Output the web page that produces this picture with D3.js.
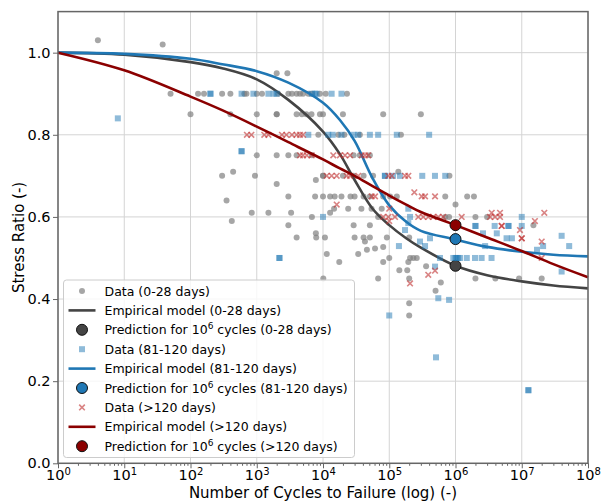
<!DOCTYPE html>
<html>
<head>
<meta charset="utf-8">
<script src="https://cdn.jsdelivr.net/npm/d3@7"></script>
<style>
  body { margin: 0; background: #fff; }
  svg { font-family: "DejaVu Sans", sans-serif; }
</style>
</head>
<body>
<svg width="603" height="503"></svg>
<script>
// ---- data ----
// 0-28 days (grey circles)
const youngCycles = [
  4, 38,
  2000, 2900,
  50, 130, 160, 300, 400, 650, 700, 1000, 1200, 2100, 3000, 3400, 4000, 4500, 5000, 6000, 6800, 9000, 11000, 23000,
  100, 400, 1000, 2000, 2000, 4000, 4800, 5600, 6700, 9000, 10000, 20000, 81000, 300000,
  8500, 17000, 21000, 36000, 150000,
  1000, 2000, 3000, 4000, 6800, 29000, 36000, 51000,
  440, 137000,
  300, 940, 10000, 10000, 20000, 29000, 41000, 57000, 810000,
  7800, 2000,
  3000, 7600, 10000, 12800, 15000, 19000, 26000, 30000, 41000, 51000, 81000, 103000, 130000, 700000, 1500000, 1900000,
  350, 1000000,
  14700, 24000, 38000, 54000, 77000,
  840, 1500, 3300, 12800,
  6800, 68000, 700000, 800000, 2000000, 3000000,
  420,
  3000, 29000, 51000, 15000000,
  7800,
  4000, 7900, 10700, 30000, 41000, 43000, 51000, 92000, 200000,
  61000, 81000, 46000,
  11400, 34000,
  100000, 206000, 231000, 260000,
  17600, 81000, 194000,
  360000, 142000, 187000,
  10100, 68000, 200000, 2000000, 4000000, 9100000, 20000000,
  600000, 500000, 200000, 200000
];
const youngRatio = [
  1.03, 1.02,
  0.95, 0.95,
  0.9, 0.9, 0.9, 0.9, 0.9, 0.9, 0.9, 0.9, 0.9, 0.9, 0.9, 0.9, 0.9, 0.9, 0.9, 0.9, 0.9, 0.9, 0.9, 0.9,
  0.85, 0.85, 0.85, 0.85, 0.85, 0.85, 0.85, 0.85, 0.85, 0.85, 0.85, 0.85, 0.85, 0.85,
  0.8, 0.8, 0.8, 0.8, 0.8,
  0.75, 0.75, 0.75, 0.75, 0.75, 0.75, 0.75, 0.75,
  0.71, 0.71,
  0.7, 0.7, 0.7, 0.7, 0.7, 0.7, 0.7, 0.7, 0.7,
  0.69, 0.68,
  0.65, 0.65, 0.65, 0.65, 0.65, 0.65, 0.65, 0.65, 0.65, 0.65, 0.65, 0.65, 0.65, 0.65, 0.65, 0.65,
  0.64, 0.63,
  0.62, 0.62, 0.62, 0.62, 0.62,
  0.61, 0.61, 0.61, 0.61,
  0.6, 0.6, 0.6, 0.6, 0.6, 0.6,
  0.59,
  0.58, 0.58, 0.58, 0.58,
  0.56,
  0.55, 0.55, 0.55, 0.55, 0.55, 0.54, 0.55, 0.55, 0.55,
  0.523, 0.527, 0.52,
  0.51, 0.51,
  0.5, 0.5, 0.5, 0.5,
  0.49, 0.49, 0.49,
  0.48, 0.47, 0.47,
  0.45, 0.45, 0.45, 0.45, 0.45, 0.45, 0.45,
  0.44, 0.42, 0.39, 0.36
];

// 81-120 days (blue squares)
const midCycles = [
  200, 200, 590, 890, 1500, 1800, 2000, 6800, 7600, 8000, 13500, 19000,
  8,
  6000, 12000, 14000, 19000, 29000, 34000, 51000, 68000, 130000, 400000,
  590, 590,
  86000, 86000, 114000, 145000, 315000, 490000, 700000,
  194000,
  10000, 206000, 10000000,
  194000,
  2000000, 2000000, 3900000, 6300000, 6300000, 10000000,
  173000,
  2600000, 4200000,
  40000000,
  412000, 5900000, 7100000,
  291000,
  140000, 347000, 2800000, 21000000, 52000000,
  17000000,
  2200, 2200, 583000, 926000, 1000000, 1040000, 1100000, 1170000, 1480000, 1970000, 2480000, 3500000,
  491000, 40000000,
  550000, 800000,
  100000, 508000,
  12600000, 12600000
];
const midRatio = [
  0.9, 0.9, 0.9, 0.9, 0.9, 0.9, 0.9, 0.9, 0.9, 0.9, 0.9, 0.9,
  0.84,
  0.8, 0.8, 0.8, 0.8, 0.8, 0.8, 0.8, 0.8, 0.8, 0.8,
  0.76, 0.76,
  0.7, 0.7, 0.7, 0.7, 0.7, 0.7, 0.7,
  0.62,
  0.6, 0.6, 0.6,
  0.585,
  0.578, 0.578, 0.578, 0.578, 0.578, 0.578,
  0.568,
  0.56, 0.56,
  0.554,
  0.548, 0.548, 0.548,
  0.54,
  0.529, 0.529, 0.529, 0.529, 0.529,
  0.52,
  0.5, 0.5, 0.5, 0.5, 0.5, 0.5, 0.5, 0.5, 0.5, 0.5, 0.5, 0.5,
  0.479, 0.467,
  0.402, 0.398,
  0.36, 0.258,
  0.178, 0.178
];

// >120 days (red crosses)
const oldCycles = [
  710, 830, 1300, 1500, 2400, 2800, 3400, 4000, 4500, 5000,
  4500, 5000, 5700, 6750, 14300, 18000, 21500, 25600, 38400, 43000, 48300,
  11400, 13500, 16100, 22800, 25600, 34100, 96800, 109000, 173000, 194000,
  239000,
  54300, 61000, 309000, 347000, 491000,
  16100, 100000,
  3520000, 4700000, 21900000,
  81000, 97000, 122000, 274000, 326000, 388000, 461000, 550000, 653000, 1240000, 3320000, 3950000, 4700000,
  100000, 15800000,
  4980000, 4980000,
  9400000,
  10000000, 10000000,
  20000000, 20000000,
  491000, 388000, 206000
];
const oldRatio = [
  0.8, 0.8, 0.8, 0.8, 0.8, 0.8, 0.8, 0.8, 0.8, 0.8,
  0.75, 0.75, 0.75, 0.75, 0.75, 0.75, 0.75, 0.75, 0.75, 0.75, 0.75,
  0.7, 0.7, 0.7, 0.7, 0.7, 0.7, 0.7, 0.7, 0.7, 0.7,
  0.66,
  0.65, 0.65, 0.65, 0.65, 0.65,
  0.63, 0.62,
  0.61, 0.61, 0.61,
  0.6, 0.6, 0.6, 0.6, 0.6, 0.6, 0.6, 0.6, 0.6, 0.6, 0.6, 0.6, 0.6,
  0.59, 0.59,
  0.578, 0.578,
  0.568,
  0.548, 0.548,
  0.54, 0.5,
  0.469, 0.459, 0.438
];

// empirical model curves
const modelCycles = [1, 10, 100, 300, 1000, 3000, 10000, 18000, 30000, 56000, 100000, 180000, 300000, 1000000, 3000000, 10000000, 30000000, 100000000];
const youngModel = [1.0, 0.995, 0.977, 0.962, 0.935, 0.885, 0.808, 0.753, 0.69, 0.62, 0.58, 0.548, 0.525, 0.481, 0.458, 0.443, 0.433, 0.426];
const midModel   = [1.0, 0.997, 0.985, 0.972, 0.955, 0.927, 0.878, 0.836, 0.785, 0.694, 0.628, 0.588, 0.566, 0.545, 0.527, 0.515, 0.508, 0.504];
const oldModel   = [1.0, 0.957, 0.893, 0.86, 0.82, 0.782, 0.74, 0.718, 0.70, 0.675, 0.652, 0.63, 0.612, 0.58, 0.55, 0.517, 0.485, 0.453];

// predictions at 10^6 cycles
const predCycles = 1000000;
const predRatio = [0.481, 0.546, 0.58];

const xTicks = [1, 1e1, 1e2, 1e3, 1e4, 1e5, 1e6, 1e7, 1e8];
const yTicks = [0, 0.2, 0.4, 0.6, 0.8, 1.0];

// ---- layout ----
const plotL = 58, plotR = 588, plotT = 11.6, plotB = 463.3;
const svg = d3.select("svg");

const x = d3.scaleLog().domain([1, 1e8]).range([plotL, plotR]);
const y = d3.scaleLinear().domain([0, 1.1]).range([plotB, plotT]);

const frameColor = "#666";
const grey = "#444444", blue = "#1f77b4", red = "#8b0000";

// grid
svg.append("g").selectAll("line").data(xTicks).enter().append("line")
  .attr("x1", d => x(d)).attr("x2", d => x(d))
  .attr("y1", plotT).attr("y2", plotB)
  .attr("stroke", "#d4d4d4").attr("stroke-width", 1);
svg.append("g").selectAll("line").data(yTicks).enter().append("line")
  .attr("x1", plotL).attr("x2", plotR)
  .attr("y1", d => y(d)).attr("y2", d => y(d))
  .attr("stroke", "#d4d4d4").attr("stroke-width", 1);

// axes
const xAxis = svg.append("g").attr("transform", `translate(0,${plotB})`)
  .call(d3.axisBottom(x).tickValues(xTicks).tickSize(5).tickPadding(1.5).tickFormat(() => "10"));
xAxis.selectAll(".tick text").each(function(d) {
  d3.select(this).append("tspan")
    .attr("dy", "-0.55em").attr("font-size", "10px")
    .text(Math.round(Math.log10(d)));
});

const minor = [];
for (let e = 0; e < 8; e++) for (let k = 2; k < 10; k++) minor.push(k * Math.pow(10, e));
svg.append("g").attr("transform", `translate(0,${plotB})`)
  .call(d3.axisBottom(x).tickValues(minor).tickSize(2.5).tickFormat(""));

svg.append("g").attr("transform", `translate(${plotL},0)`)
  .call(d3.axisLeft(y).tickValues(yTicks).tickSize(5).tickPadding(2.5).tickFormat(d3.format(".1f")));

svg.selectAll(".domain").remove();
svg.selectAll(".tick line").attr("stroke", frameColor);
svg.selectAll(".tick text").attr("fill", "#000").attr("font-size", "14.5px")
  .attr("font-family", "DejaVu Sans");

// axis titles
svg.append("text").attr("x", (plotL + plotR) / 2).attr("y", 498)
  .attr("text-anchor", "middle").attr("font-size", "15px").text("Number of Cycles to Failure (log) (-)");
svg.append("text").attr("transform", `translate(24,${(plotT + plotB) / 2}) rotate(-90)`)
  .attr("text-anchor", "middle").attr("font-size", "15px").text("Stress Ratio (-)");

const plot = svg.append("g");
const line = d3.line().x(d => x(d[0])).y(d => y(d[1])).curve(d3.curveCatmullRom.alpha(0.5));

function drawCircles(cycles, ratio) {
  plot.append("g").selectAll("circle").data(d3.zip(cycles, ratio)).enter().append("circle")
    .attr("cx", d => x(d[0])).attr("cy", d => y(d[1])).attr("r", 3)
    .attr("fill", "#808080").attr("fill-opacity", 0.7);
}
function drawSquares(cycles, ratio) {
  plot.append("g").selectAll("rect").data(d3.zip(cycles, ratio)).enter().append("rect")
    .attr("x", d => x(d[0]) - 3).attr("y", d => y(d[1]) - 3).attr("width", 6).attr("height", 6)
    .attr("fill", blue).attr("fill-opacity", 0.5);
}
function drawCrosses(cycles, ratio) {
  plot.append("g").selectAll("path").data(d3.zip(cycles, ratio)).enter().append("path")
    .attr("d", d => {
      const cx = x(d[0]), cy = y(d[1]), s = 2.8;
      return `M${cx - s},${cy - s}L${cx + s},${cy + s}M${cx - s},${cy + s}L${cx + s},${cy - s}`;
    })
    .attr("stroke", "#c03030").attr("stroke-opacity", 0.6).attr("stroke-width", 1.6).attr("fill", "none");
}
function drawModel(values, color) {
  plot.append("path").datum(d3.zip(modelCycles, values))
    .attr("d", line).attr("fill", "none").attr("stroke", color).attr("stroke-width", 2.6);
}
function drawPrediction(value, color) {
  plot.append("circle").attr("cx", x(predCycles)).attr("cy", y(value)).attr("r", 5.5)
    .attr("fill", color).attr("stroke", "#111").attr("stroke-width", 1);
}

drawCircles(youngCycles, youngRatio);
drawModel(youngModel, grey);
drawPrediction(predRatio[0], grey);
drawSquares(midCycles, midRatio);
drawModel(midModel, blue);
drawPrediction(predRatio[1], blue);
drawCrosses(oldCycles, oldRatio);
drawModel(oldModel, red);
drawPrediction(predRatio[2], red);

// frame
svg.append("rect").attr("x", plotL).attr("y", plotT).attr("width", plotR - plotL).attr("height", plotB - plotT)
  .attr("fill", "none").attr("stroke", frameColor).attr("stroke-width", 1.5);

// legend
const legendItems = [
  { type: "circle", label: "Data (0-28 days)" },
  { type: "line", color: grey, label: "Empirical model (0-28 days)" },
  { type: "pred", color: grey, label: "(0-28 days)" },
  { type: "square", label: "Data (81-120 days)" },
  { type: "line", color: blue, label: "Empirical model (81-120 days)" },
  { type: "pred", color: blue, label: "(81-120 days)" },
  { type: "cross", label: "Data (>120 days)" },
  { type: "line", color: red, label: "Empirical model (>120 days)" },
  { type: "pred", color: red, label: "(>120 days)" }
];
const lg = svg.append("g");
lg.append("rect").attr("x", 63.5).attr("y", 280).attr("width", 291).attr("height", 177.5).attr("rx", 3)
  .attr("fill", "#fff").attr("fill-opacity", 0.8).attr("stroke", "#cccccc");
legendItems.forEach((it, i) => {
  const cy = 291 + i * 19.4, hx = 82;
  if (it.type === "circle") {
    lg.append("circle").attr("cx", hx).attr("cy", cy).attr("r", 3).attr("fill", "#808080").attr("fill-opacity", 0.7);
  } else if (it.type === "square") {
    lg.append("rect").attr("x", hx - 3).attr("y", cy - 3).attr("width", 6).attr("height", 6)
      .attr("fill", blue).attr("fill-opacity", 0.5);
  } else if (it.type === "cross") {
    const s = 2.8;
    lg.append("path").attr("d", `M${hx - s},${cy - s}L${hx + s},${cy + s}M${hx - s},${cy + s}L${hx + s},${cy - s}`)
      .attr("stroke", "#c03030").attr("stroke-opacity", 0.6).attr("stroke-width", 1.6);
  } else if (it.type === "line") {
    lg.append("line").attr("x1", 68.5).attr("x2", 95.5).attr("y1", cy).attr("y2", cy)
      .attr("stroke", it.color).attr("stroke-width", 2.6);
  } else {
    lg.append("circle").attr("cx", hx).attr("cy", cy).attr("r", 5.5)
      .attr("fill", it.color).attr("stroke", "#111").attr("stroke-width", 1);
  }
  const t = lg.append("text").attr("x", 104.5).attr("y", cy + 4.5).attr("font-size", "12.5px");
  if (it.type === "pred") {
    t.append("tspan").text("Prediction for 10");
    t.append("tspan").attr("dy", -5).attr("font-size", "9px").text("6");
    t.append("tspan").attr("dy", 5).text(" cycles " + it.label);
  } else {
    t.text(it.label);
  }
});
</script>
</body>
</html>
